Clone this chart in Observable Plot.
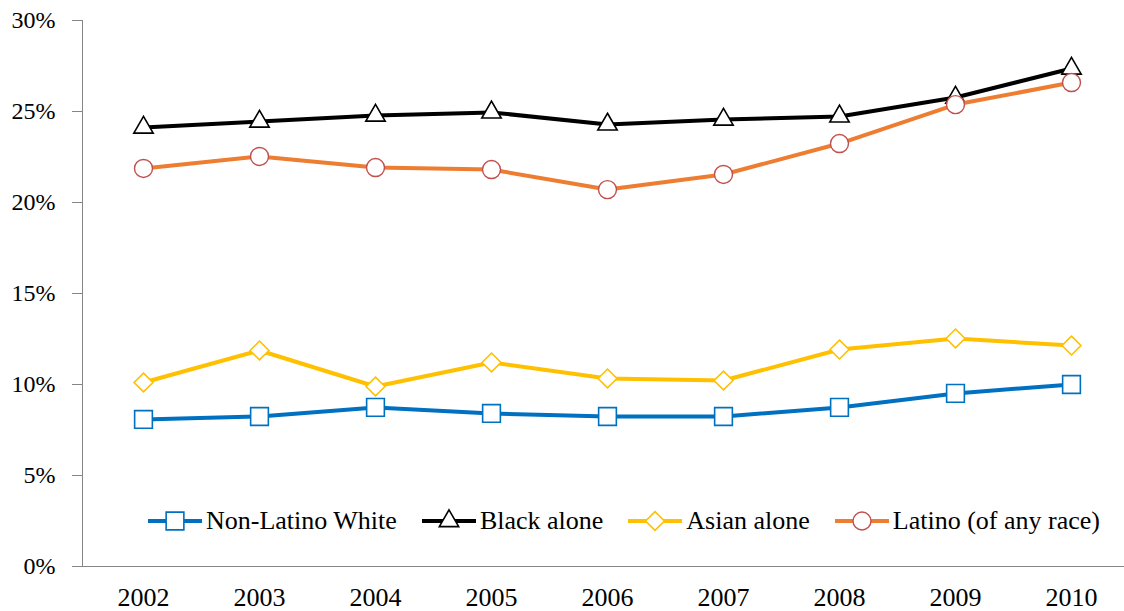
<!DOCTYPE html>
<html>
<head>
<meta charset="utf-8">
<script src="https://cdn.jsdelivr.net/npm/d3@7"></script>
<script src="https://cdn.jsdelivr.net/npm/@observablehq/plot@0.6"></script>
<style>
  html, body { margin: 0; padding: 0; background: #fff; }
  #wrap { position: relative; width: 1124px; height: 611px; }
  #legend { position: absolute; left: 148px; top: 506px; display: flex; align-items: center; font-family: "Liberation Serif", serif; font-size: 26px; color: #000; white-space: nowrap; }
  #legend span { font-family: "Liberation Serif", serif; }
  .item { display: flex; align-items: center; margin-right: 25px; }
  .item svg { display: block; margin-right: 4px; }
</style>
</head>
<body>
<div id="wrap"></div>
<script>
const FONT = "Liberation Serif";
const years = ["2002","2003","2004","2005","2006","2007","2008","2009","2010"];
const seriesNames = ["Non-Latino White","Black alone","Asian alone","Latino (of any race)"];
const white  = [8.08, 8.24, 8.74, 8.41, 8.24, 8.24, 8.74, 9.51, 10.0];
const black  = [24.12, 24.45, 24.78, 24.95, 24.29, 24.56, 24.73, 25.77, 27.36];
const asian  = [10.11, 11.87, 9.89, 11.21, 10.33, 10.22, 11.92, 12.53, 12.14];
const latino = [21.87, 22.53, 21.92, 21.81, 20.71, 21.54, 23.24, 25.38, 26.59];
const yTicks = [0, 5, 10, 15, 20, 25, 30];

const styles = {
  "Non-Latino White": {line: "#0070C0", stroke: "#0070C0", symbol: "square", r: 10, sw: 1.6},
  "Black alone": {line: "#000000", stroke: "#000000", symbol: "triangle", r: 7.2, sw: 1.6},
  "Asian alone": {line: "#FFC000", stroke: "#FFC000", symbol: "diamond2", r: 8.5, sw: 1.6},
  "Latino (of any race)": {line: "#ED7D31", stroke: "#C0504D", symbol: "circle", r: 9, sw: 1.4}
};
const valuesBy = {"Non-Latino White": white, "Black alone": black, "Asian alone": asian, "Latino (of any race)": latino};

const marks = [
  Plot.frame({anchor: "left", stroke: "#868686"}),
  Plot.frame({anchor: "bottom", stroke: "#868686"}),
  Plot.axisY({ticks: yTicks, tickFormat: d => d + "%", tickSize: 10, tickPadding: 17, stroke: "#868686", fill: "#000", fontSize: 24, fontFamily: FONT, label: null}),
  Plot.axisX({tickSize: 0, tickPadding: 21, fontSize: 26, fontFamily: FONT, fill: "#000", label: null})
];
for (const name of seriesNames) {
  const s = styles[name];
  const data = years.map((y, i) => ({year: y, value: valuesBy[name][i]}));
  marks.push(Plot.line(data, {x: "year", y: "value", stroke: s.line, strokeWidth: 4}));
  marks.push(Plot.dot(data, {x: "year", y: "value", symbol: () => s.symbol, r: s.r, fill: "white", stroke: s.stroke, strokeWidth: s.sw}));
}

const chart = Plot.plot({
  width: 1124,
  height: 611,
  marginLeft: 82,
  marginRight: 0,
  marginTop: 20,
  marginBottom: 45,
  style: {fontFamily: FONT, background: "white", color: "#000"},
  x: {type: "point", domain: years, range: [140, 1073], padding: 0},
  y: {domain: [0, 30]},
  symbol: {type: "identity"},
  marks
});
const wrap = document.getElementById("wrap");
wrap.appendChild(chart);

// legend
const legend = document.createElement("div");
legend.id = "legend";
const symMap = {square: d3.symbolSquare, triangle: d3.symbolTriangle, diamond2: d3.symbolDiamond2, circle: d3.symbolCircle};
for (const name of seriesNames) {
  const s = styles[name];
  const item = document.createElement("div");
  item.className = "item";
  const svg = d3.create("svg").attr("width", 54).attr("height", 26);
  svg.append("line").attr("x1", 0).attr("x2", 54).attr("y1", 13).attr("y2", 13).attr("stroke", s.line).attr("stroke-width", 4);
  svg.append("path").attr("transform", "translate(27,13)")
    .attr("d", d3.symbol(symMap[s.symbol], Math.PI * s.r * s.r)())
    .attr("fill", "white").attr("stroke", s.stroke).attr("stroke-width", s.sw);
  item.appendChild(svg.node());
  const span = document.createElement("span");
  span.textContent = name;
  item.appendChild(span);
  legend.appendChild(item);
}
wrap.appendChild(legend);
</script>
</body>
</html>
